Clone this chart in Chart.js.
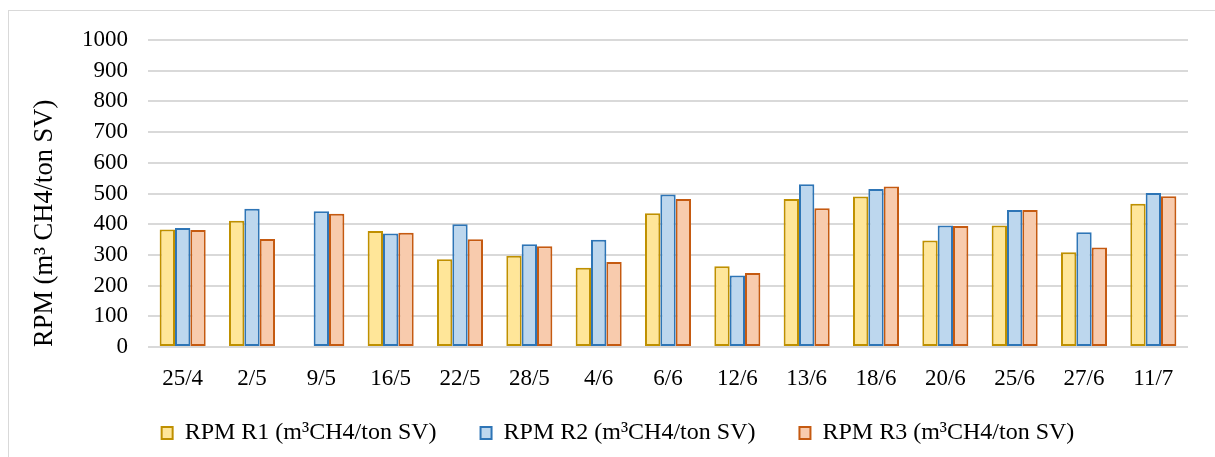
<!DOCTYPE html>
<html>
<head>
<meta charset="utf-8">
<script src="https://cdn.jsdelivr.net/npm/chart.js@4/dist/chart.umd.min.js"></script>
<style>
  html, body { margin: 0; padding: 0; background: #fff; }
  #wrap { width: 1215px; height: 457px; position: relative; }
</style>
</head>
<body>
<div id="wrap"><canvas id="c" width="1215" height="457"></canvas></div>
<script>
const categories = ['25/4','2/5','9/5','16/5','22/5','28/5','4/6','6/6','12/6','13/6','18/6','20/6','25/6','27/6','11/7'];
const r1Values = [383, 411, null, 378, 286, 297, 258, 436, 263, 482, 490, 347, 396, 309, 467];
const r2Values = [388, 450, 442, 370, 400, 335, 349, 497, 233, 530, 515, 396, 446, 374, 502];
const r3Values = [381, 352, 434, 372, 351, 328, 277, 482, 241, 452, 523, 394, 446, 324, 491];
const seriesNames = ['RPM R1 (m³CH4/ton SV)', 'RPM R2 (m³CH4/ton SV)', 'RPM R3 (m³CH4/ton SV)'];
const yTicks = [0,100,200,300,400,500,600,700,800,900,1000];
const yTitle = 'RPM (m³ CH4/ton SV)';

const FONT = "'Liberation Serif', 'Times New Roman', serif";

const frame = {
  id: 'frame',
  beforeDraw(chart) {
    const ctx = chart.ctx;
    ctx.save();
    ctx.fillStyle = '#fff';
    ctx.fillRect(0, 0, chart.width, chart.height);
    ctx.strokeStyle = '#d9d9d9';
    ctx.lineWidth = 1;
    ctx.strokeRect(8.5, 10.5, 1250, 500);
    ctx.restore();
  }
};
const legendFix = {
  id: 'legendFix',
  afterInit(chart) {
    const lg = chart.legend;
    if (!lg) return;
    const f = lg.fit;
    lg.fit = function() { f.call(this); this.height = 80; };
    const d = lg.draw;
    lg.draw = function() {
      const ctx = this.ctx;
      ctx.save();
      ctx.translate(14, 0);
      d.call(this);
      ctx.restore();
    };
  }
};

new Chart(document.getElementById('c'), {
  type: 'bar',
  data: {
    labels: categories,
    datasets: [
      { label: seriesNames[0], data: r1Values, backgroundColor: '#FFE699', borderColor: '#BF9000', borderWidth: 2 },
      { label: seriesNames[1], data: r2Values, backgroundColor: '#BDD7EE', borderColor: '#2E75B6', borderWidth: 2 },
      { label: seriesNames[2], data: r3Values, backgroundColor: '#F8CBAD', borderColor: '#C55A11', borderWidth: 2 }
    ]
  },
  options: {
    responsive: false,
    animation: false,
    devicePixelRatio: 1,
    layout: { padding: { left: 20, right: 27, top: 40, bottom: 0 } },
    datasets: { bar: { categoryPercentage: 0.664, barPercentage: 1.0, borderSkipped: false } },
    plugins: {
      tooltip: { enabled: false },
      legend: {
        position: 'bottom',
        labels: {
          color: '#000',
          font: { family: FONT, size: 24 },
          boxWidth: 11,
          boxHeight: 12,
          padding: 44
        }
      }
    },
    scales: {
      x: {
        grid: { display: false, drawTicks: false },
        border: { display: false },
        ticks: { color: '#000', font: { family: FONT, size: 23 }, padding: 18, maxRotation: 0, autoSkip: false },
        afterFit(s) { s.height = 30; s._computeLabelArea = function() { return undefined; }; }
      },
      y: {
        min: 0, max: 1000,
        afterBuildTicks(s) { s.ticks = yTicks.map(v => ({ value: v })); },
        grid: { color: '#d9d9d9', lineWidth: 2, drawTicks: false },
        border: { display: false },
        ticks: { color: '#000', font: { family: FONT, size: 23 }, padding: 20, callback: v => String(v) },
        title: { display: true, text: yTitle, align: 'start', color: '#000', font: { family: FONT, size: 26.5 }, padding: { top: 9, bottom: 0 } },
        afterFit(s) { s.width = 128; }
      }
    }
  },
  plugins: [frame, legendFix]
});
</script>
</body>
</html>
